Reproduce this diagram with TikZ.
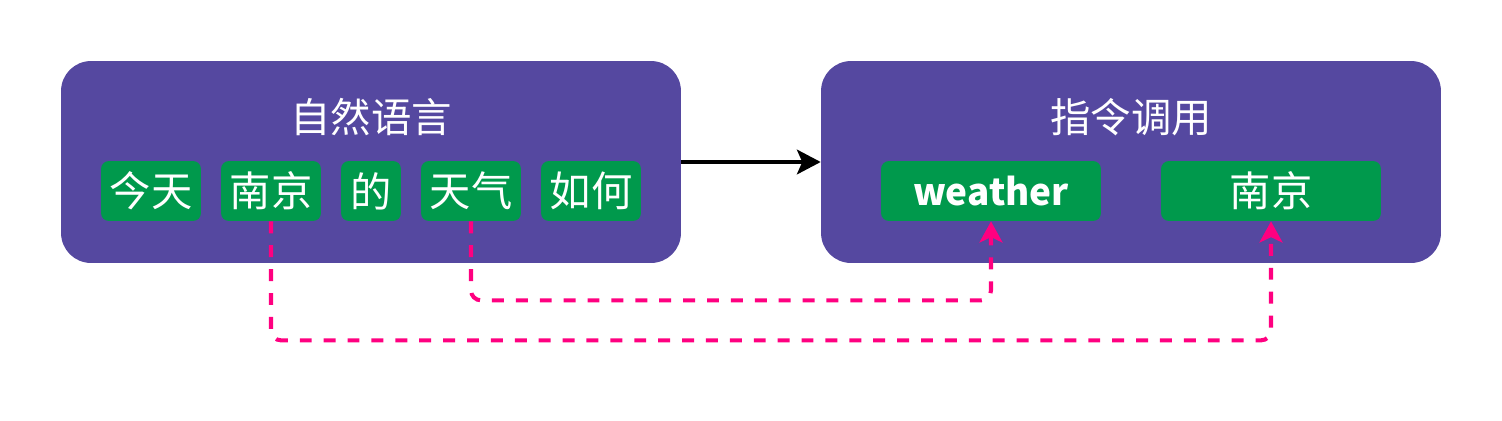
\documentclass[tikz,border=0pt]{standalone}
\usepackage{fontspec}
\setmainfont{Noto Sans CJK SC}
\usetikzlibrary{arrows.meta}
\definecolor{panelfill}{HTML}{5548A0}
\definecolor{tagfill}{HTML}{00994C}
\definecolor{linkpink}{HTML}{FF0080}
\begin{document}
\begin{tikzpicture}[x=0.02cm,y=-0.02cm,
    panel/.style={fill=panelfill, rounded corners=0.6cm,
      minimum width=12.4cm, minimum height=4.04cm, inner sep=0pt},
    title/.style={text=white, font=\fontsize{23}{24}\selectfont},
    tag/.style={fill=tagfill, rounded corners=0.16cm, text=white,
      minimum height=1.2cm, inner sep=0pt, font=\fontsize{23.5}{24}\selectfont},
    link/.style={draw=linkpink, line width=2.3pt, dash pattern=on 6.8pt off 6.8pt,
      rounded corners=0.2cm, -{Stealth[length=12pt, width=13pt, inset=3pt]}}]
  \useasboundingbox (0,0) rectangle (1502,420);
  \node[panel] (nl) at (371,162) {};
  \node[panel] (call) at (1131,162) {};
  \node[title] (nltitle) at (371,117) {自然语言};
  \node[title] (calltitle) at (1131,117) {指令调用};
  \draw
    (151,191) node[tag, minimum width=2cm] (jin) {今天}
    (271,191) node[tag, minimum width=2cm] (nj) {南京}
    (371,191) node[tag, minimum width=1.2cm] (de) {的}
    (471,191) node[tag, minimum width=2cm] (tq) {天气}
    (591,191) node[tag, minimum width=2cm] (rh) {如何}
    (991,191) node[tag, minimum width=4.4cm, font=\fontsize{21}{24}\selectfont\bfseries] (wea) {weather}
    (1271,191) node[tag, minimum width=4.4cm] (city) {南京};
  \draw[line width=2.3pt, -{Stealth[length=13.5pt, width=14pt, inset=3pt]}] (nl) -- (call);
  \begin{scope}[link]
    \draw (tq.south) -- ++(0,79) -| (wea.south);
    \draw (nj.south) -- ++(0,119) -| (city.south);
  \end{scope}
\end{tikzpicture}
\end{document}
